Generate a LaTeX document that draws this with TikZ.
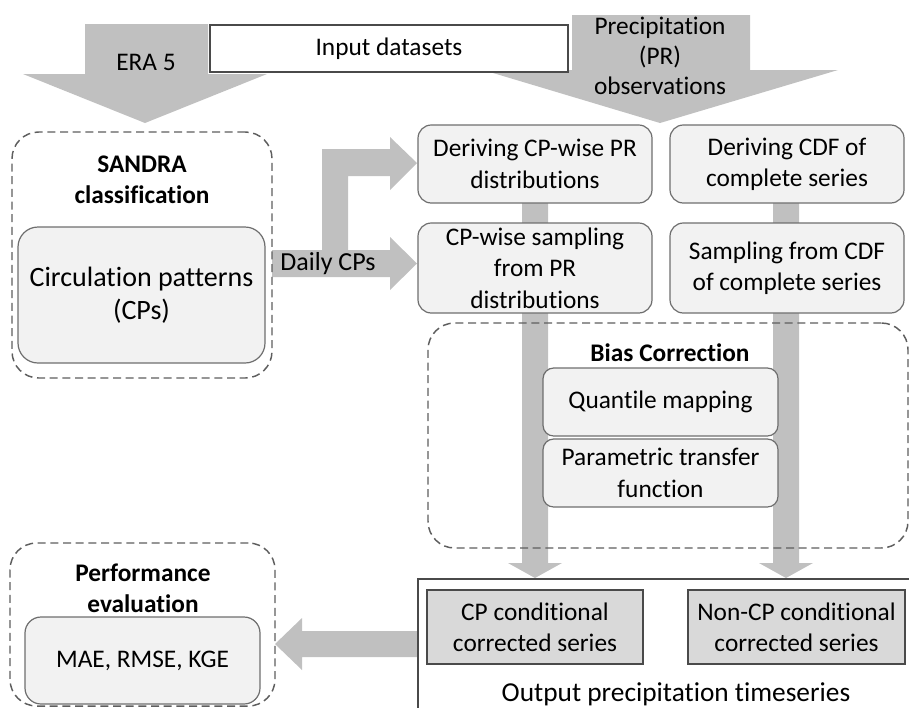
\documentclass[tikz,border=0pt]{standalone}
\usepackage{fontspec}
\setmainfont[Ligatures=NoCommon]{Carlito}
\definecolor{arrowgray}{HTML}{C0C0C0}
\definecolor{boxfill}{HTML}{F2F2F2}
\definecolor{boxline}{HTML}{6E6E6E}
\definecolor{dashgray}{HTML}{5E5E5E}
\definecolor{outfill}{HTML}{D9D9D9}
\definecolor{darkline}{HTML}{4A4A4A}
\begin{document}
\begin{tikzpicture}[x=0.75pt,y=-0.75pt,
  garrow/.style={fill=arrowgray, draw=none},
  txt/.style={align=center, inner sep=0pt, font=\fontsize{19}{23.5}\selectfont},
  ttl/.style={align=center, inner sep=0pt, font=\bfseries\fontsize{19}{23.5}\selectfont},
  rbox/.style={txt, draw=boxline, fill=boxfill, rounded corners=10pt, line width=0.9pt},
  gbox/.style={txt, draw=darkline, fill=outfill, line width=1.1pt},
  dbox/.style={draw=dashgray, dash pattern=on 6pt off 3.5pt, rounded corners=20pt, line width=1.1pt, inner sep=0pt}
]
\useasboundingbox (0,0) rectangle (909,708);

% input arrows
\path[garrow] (85,24)--(208,24)--(208,74)--(267,74)--(145,123)--(23,74)--(85,74)--cycle;
\path[garrow] (572,15)--(750,15)--(750,70)--(838,70)--(660,123)--(483,70)--(572,70)--cycle;
\node[txt, draw=darkline, fill=white, line width=1.2pt, minimum width=268.5pt, minimum height=35.25pt] (input) at (389,48.5) {Input datasets};
\node[txt] (era) at (146,62) {ERA 5};
\node[txt, font=\fontsize{19}{22.5}\selectfont] (precip) at (660,56) {Precipitation\\(PR)\\observations};

% block connectors
\path[garrow] (272,250)--(322,250)--(322,149)--(390,149)--(390,137)--(417,163)--(390,190)--(390,176)--(348,176)--(348,250)--(390,250)--(390,237)--(417,263.5)--(390,290)--(390,277)--(272,277)--cycle;
\path[garrow] (522,203)--(548,203)--(548,563)--(562,563)--(535,578)--(508,563)--(522,563)--cycle;
\path[garrow] (773,203)--(799,203)--(799,563)--(813,563)--(786,578)--(759,563)--(773,563)--cycle;
\path[garrow] (418,631)--(302,631)--(302,618)--(275,644)--(302,670)--(302,657)--(418,657)--cycle;
\node[txt, font=\fontsize{19.5}{23.5}\selectfont] (daily) at (328,264) {Daily CPs};

% SANDRA
\node[rbox, rounded corners=15pt, font=\fontsize{21}{25}\selectfont, minimum width=185.25pt, minimum height=102pt] (circ) at (141.5,295) {Circulation patterns\\(CPs)};
\node[dbox, minimum width=195pt, minimum height=184.5pt] (sandra) at (142,255) {};
\node[ttl] (sandratitle) at (142,180) {SANDRA\\classification};

% right column
\node[rbox, minimum width=175.5pt, minimum height=58.5pt] (d1) at (535,164) {Deriving CP-wise PR\\distributions};
\node[rbox, minimum width=175.5pt, minimum height=58.5pt] (d2) at (787,164) {Deriving CDF of\\complete series};
\node[rbox, minimum width=175.5pt, minimum height=67.5pt] (s1) at (535,268) {CP-wise sampling\\from PR\\distributions};
\node[rbox, minimum width=175.5pt, minimum height=67.5pt] (s2) at (787,268) {Sampling from CDF\\of complete series};

% bias correction
\node[rbox, rounded corners=8pt, minimum width=176.25pt, minimum height=51pt] (qm) at (660.5,402) {Quantile mapping};
\node[rbox, rounded corners=8pt, minimum width=176.25pt, minimum height=51pt] (ptf) at (660.5,473) {Parametric transfer\\function};
\node[dbox, minimum width=360pt, minimum height=168.75pt] (bias) at (668,435.5) {};
\node[ttl] (biastitle) at (670,353) {Bias Correction};

% output
\draw[draw=darkline, line width=1.1pt] (909,579) -- (418,579) -- (418,708);
\node[gbox, minimum width=162pt, minimum height=55.5pt] (cpc) at (535,627) {CP conditional\\corrected series};
\node[gbox, minimum width=162.75pt, minimum height=55.5pt] (ncp) at (796.5,627) {Non-CP conditional\\corrected series};
\node[txt, font=\fontsize{20.5}{24}\selectfont] (outtitle) at (676,694) {Output precipitation timeseries};

% performance
\node[rbox, rounded corners=12pt, minimum width=176.25pt, minimum height=65.25pt] (mae) at (142.5,660.5) {MAE, RMSE, KGE};
\node[dbox, minimum width=198.75pt, minimum height=122.25pt] (perf) at (142.5,624.5) {};
\node[ttl] (perftitle) at (143,588) {Performance\\evaluation};
\end{tikzpicture}
\end{document}
